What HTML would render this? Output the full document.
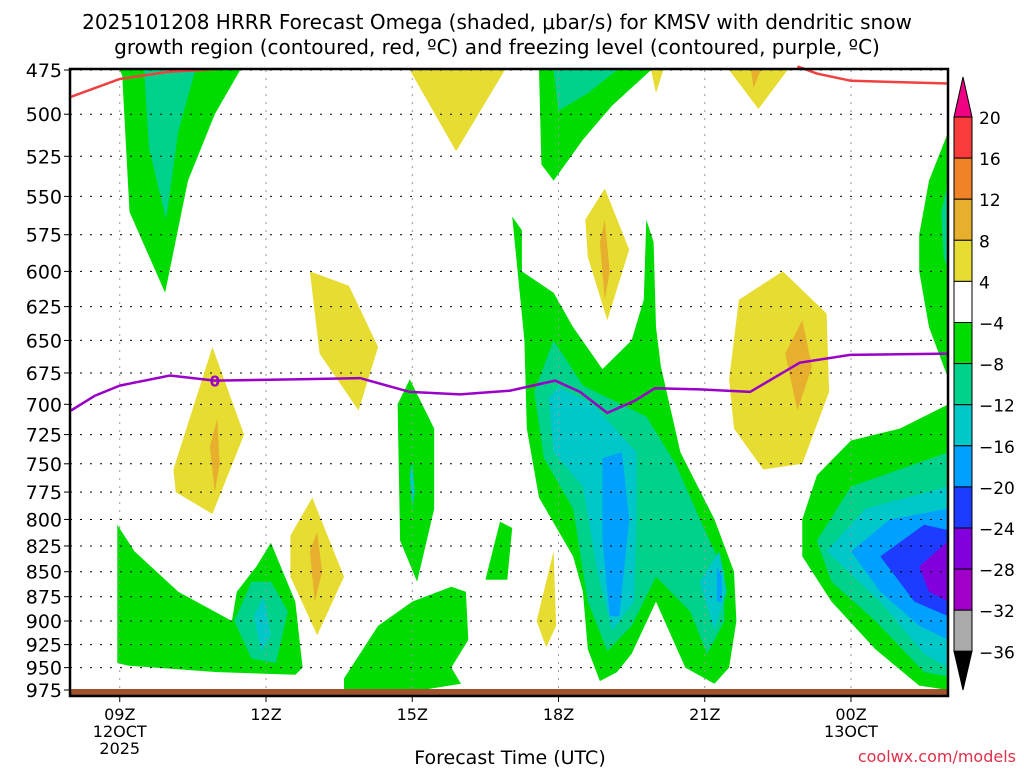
<!DOCTYPE html>
<html><head><meta charset="utf-8"><style>
body{margin:0;background:#fff;width:1024px;height:768px;overflow:hidden;font-family:"Liberation Sans","DejaVu Sans",sans-serif}
svg text{font-family:"DejaVu Sans","Liberation Sans",sans-serif}
</style></head><body>
<svg id="c" width="1024" height="768" xmlns="http://www.w3.org/2000/svg">
<text x="497" y="29" text-anchor="middle" font-size="20" fill="#000">2025101208 HRRR Forecast Omega (shaded, μbar/s) for KMSV with dendritic snow</text>
<text x="497" y="54" text-anchor="middle" font-size="20" fill="#000">growth region (contoured, red, ºC) and freezing level (contoured, purple, ºC)</text>
<g id="fills"></g>
<g id="grid"></g>
<g id="lines"></g>
<rect x="70" y="689" width="878" height="6" fill="#a0522d"/>
<rect x="70" y="69" width="878" height="627" fill="none" stroke="#000" stroke-width="2.5"/>
<g id="axes"></g>
<g id="cbar"></g>
<text x="510" y="764" text-anchor="middle" font-size="19" fill="#000">Forecast Time (UTC)</text>
<text x="1016" y="762" text-anchor="end" font-size="16" fill="#e0304a">coolwx.com/models</text>
</svg>
<script>
const pressureTicks=[475,500,525,550,575,600,625,650,675,700,725,750,775,800,825,850,875,900,925,950,975];
const timeHours=[1,4,7,10,13,16];
const timeLabels=[["09Z","12OCT","2025"],["12Z"],["15Z"],["18Z"],["21Z"],["00Z","13OCT"]];
const cbLevels=["20","16","12","8","4","-4","-8","-12","-16","-20","-24","-28","-32","-36"];
const cbColors=["#fa3c3c","#f08228","#e6af2d","#e6dc32","#ffffff","#00dc00","#00d28c","#00c8c8","#00a0ff","#1e3cff","#8200dc","#a000c8","#aaaaaa"];
const G="#00dc00",T="#00d28c",C="#00c8c8",B="#00a0ff",D="#1e3cff",P="#8200dc",Y="#e6dc32",O="#e6af2d";
const regions=[
[G,[[1.0,475],[1.05,478],[1.2,560],[1.93,615],[2.4,540],[2.95,500],[3.47,475]]],
[T,[[1.5,475],[1.6,520],[1.95,565],[2.2,510],[2.55,475]]],
[Y,[[6.95,475],[7.9,522],[8.9,475]]],
[Y,[[11.9,475],[12.0,488],[12.15,475]]],
[Y,[[13.5,475],[14.1,497],[14.7,475]]],
[O,[[13.95,475],[14.0,485],[14.15,475]]],
[G,[[9.6,475],[9.65,530],[9.9,540],[10.5,515],[11.1,495],[11.9,475]]],
[T,[[9.9,475],[10.0,498],[10.6,488],[11.2,475]]],
[Y,[[10.55,565],[10.95,545],[11.45,585],[11.0,635],[10.6,590]]],
[O,[[10.85,580],[10.95,565],[11.05,600],[10.95,620]]],
[Y,[[4.9,600],[5.7,610],[6.3,655],[5.9,705],[5.1,660]]],
[Y,[[2.1,755],[2.9,655],[3.55,725],[2.9,795],[2.15,775]]],
[O,[[2.85,735],[3.0,712],[3.05,750],[2.95,775]]],
[Y,[[4.5,815],[4.95,780],[5.6,855],[5.05,915],[4.5,855]]],
[O,[[4.9,830],[5.05,812],[5.15,850],[5.0,880]]],
[G,[[0.95,805],[1.3,830],[2.2,870],[3.3,900],[3.4,870],[3.8,845],[4.1,822],[4.6,880],[4.75,950],[4.6,958],[3.0,955],[1.2,948],[0.95,945]]],
[T,[[3.35,900],[3.7,860],[4.1,860],[4.45,890],[4.2,945],[3.7,940]]],
[C,[[3.75,895],[3.95,875],[4.1,915],[3.9,932]]],
[G,[[6.7,700],[6.95,680],[7.45,720],[7.45,790],[7.1,860],[6.75,820]]],
[C,[[6.95,760],[7.0,748],[7.05,775],[7.0,790]]],
[G,[[5.6,962],[6.3,905],[7.0,880],[7.8,865],[8.1,870],[8.15,920],[7.8,950],[8.0,968],[7.2,975],[5.6,975]]],
[G,[[8.5,858],[8.8,802],[9.05,808],[8.95,858]]],
[Y,[[9.55,900],[9.9,830],[9.95,905],[9.75,928]]],
[G,[[9.05,563],[9.25,572],[9.25,600],[9.9,615],[10.3,640],[10.9,672],[11.5,650],[11.75,620],[11.8,565],[11.95,580],[12.0,640],[12.1,670],[12.5,740],[13.2,800],[13.6,850],[13.65,900],[13.5,950],[13.2,968],[12.6,950],[12.0,880],[11.5,935],[11.2,955],[10.85,965],[10.6,930],[10.5,870],[10.3,835],[9.6,780],[9.35,720],[9.3,650]]],
[T,[[9.5,690],[9.9,650],[10.5,685],[11.8,710],[12.4,750],[13.0,810],[13.4,850],[13.4,900],[13.05,935],[12.7,890],[12.0,855],[11.5,905],[11.0,932],[10.6,880],[10.3,790],[9.7,745]]],
[C,[[9.8,695],[10.0,686],[10.7,700],[11.6,740],[11.6,800],[11.55,880],[11.1,910],[10.8,850],[10.5,770],[9.9,740]]],
[B,[[10.9,745],[11.3,740],[11.45,800],[11.25,895],[11.05,895],[10.9,820]]],
[C,[[12.9,860],[13.3,830],[13.45,870],[13.2,910]]],
[B,[[13.25,845],[13.35,855],[13.35,880],[13.25,880]]],
[Y,[[13.5,680],[13.7,620],[14.6,600],[15.5,630],[15.55,690],[15.0,750],[14.2,755],[13.6,720]]],
[O,[[14.65,660],[15.0,635],[15.2,670],[14.9,705]]],
[G,[[17.4,575],[17.6,540],[18,510],[18,680],[17.6,640],[17.4,600]]],
[T,[[17.85,560],[18,540],[18,600],[17.9,590]]],
[G,[[15.0,800],[15.3,760],[16.0,730],[17.0,720],[18,700],[18,975],[17.4,970],[16.5,930],[15.6,880],[15.0,835]]],
[T,[[15.3,820],[16.0,770],[18,740],[18,960],[17.5,955],[16.5,900],[15.6,860]]],
[C,[[15.5,830],[16.3,790],[18,770],[18,950],[17.5,935],[16.6,880]]],
[B,[[16.0,830],[16.8,800],[18,790],[18,920],[17.4,905],[16.6,870]]],
[D,[[16.6,835],[17.5,805],[18,810],[18,895],[17.3,880]]],
[P,[[17.4,845],[18,820],[18,880],[17.6,870]]]
];
const redA=[[0,490],[1,480],[2,476],[3,474.5]];
const redB=[[14.9,473],[15.3,477],[16.0,481],[18,482.5]];
const purple=[[0,705],[0.49,693],[1,685],[2.03,677],[2.95,681],[4.7,680],[5.93,679],[6.95,690],[7.98,692],[9,689],[9.93,681],[10.44,690],[11,707],[11.57,697],[11.98,687],[12.9,688],[13.93,690],[14.95,667],[15.98,661],[18,660]];
const NS="http://www.w3.org/2000/svg";
const X=h=>71+48.75*h;
const Y0=p=>70+620*Math.log(p/475)/Math.log(975/475);
const Yp=p=>Y0(Math.max(475,Math.min(975,p)));
function mk(t,a,par){const e=document.createElementNS(NS,t);for(const k in a)e.setAttribute(k,a[k]);par.appendChild(e);return e;}
const fills=document.getElementById('fills');
regions.forEach((r,i)=>{const e=mk('polygon',{points:r[1].map(q=>X(q[0]).toFixed(1)+','+Yp(q[1]).toFixed(1)).join(' '),fill:r[0]},fills);

});
const grid=document.getElementById('grid'),axes=document.getElementById('axes');
pressureTicks.forEach(p=>{const y=Y0(p);
const l=mk('line',{x1:70,x2:948,y1:y,y2:y,stroke:'#000','stroke-dasharray':'2 8'},grid);


const t=mk('line',{x1:64,x2:70,y1:y,y2:y,stroke:'#000'},axes);


const tx=mk('text',{x:62,y:y+7,'text-anchor':'end','font-size':19,fill:'#000'},axes);tx.textContent=p;

});
timeHours.forEach((h,i)=>{const x=X(h);
const l=mk('line',{x1:x,x2:x,y1:70,y2:690,stroke:'#999','stroke-dasharray':'2 6'},grid);


const t=mk('line',{x1:x,x2:x,y1:696,y2:702,stroke:'#000'},axes);


timeLabels[i].forEach((s,j)=>{const tx=mk('text',{x:x,y:720+j*17,'text-anchor':'middle','font-size':16,fill:'#000'},axes);tx.textContent=s;

});});
const lines=document.getElementById('lines');
function pl(d,col,n){const e=mk('polyline',{points:d.map(q=>X(q[0]).toFixed(1)+','+Y0(q[1]).toFixed(1)).join(' '),fill:'none',stroke:col,'stroke-width':2.5},lines);

}
pl(redA,'#f04040','dendritic-contour-left');pl(redB,'#f04040','dendritic-contour-right');pl(purple,'#9a00c8','freezing-level-0c');
const lb=mk('text',{x:X(2.95),y:Y0(681)+6,'text-anchor':'middle','font-size':15,fill:'#9a00c8','font-weight':'bold'},lines);lb.textContent='0';


const cb=document.getElementById('cbar');const cx=954,cw=18,cbTop=117,step=41.1;
cbColors.forEach((c,i)=>{const r=mk('rect',{x:cx,y:cbTop+i*step,width:cw,height:step,fill:c,stroke:'#000','stroke-width':1},cb);

});
const tri1=mk('polygon',{points:`${cx},${cbTop} ${cx+cw},${cbTop} ${cx+cw/2},77`,fill:'#f00082',stroke:'#000'},cb);


const yb=cbTop+cbColors.length*step;
const tri2=mk('polygon',{points:`${cx},${yb} ${cx+cw},${yb} ${cx+cw/2},690`,fill:'#000',stroke:'#000'},cb);


cbLevels.forEach((s,i)=>{const tx=mk('text',{x:979,y:cbTop+i*step+7,'font-size':17,fill:'#000'},cb);tx.textContent=s.replace('-','\u2212');

});
</script>
</body></html>
